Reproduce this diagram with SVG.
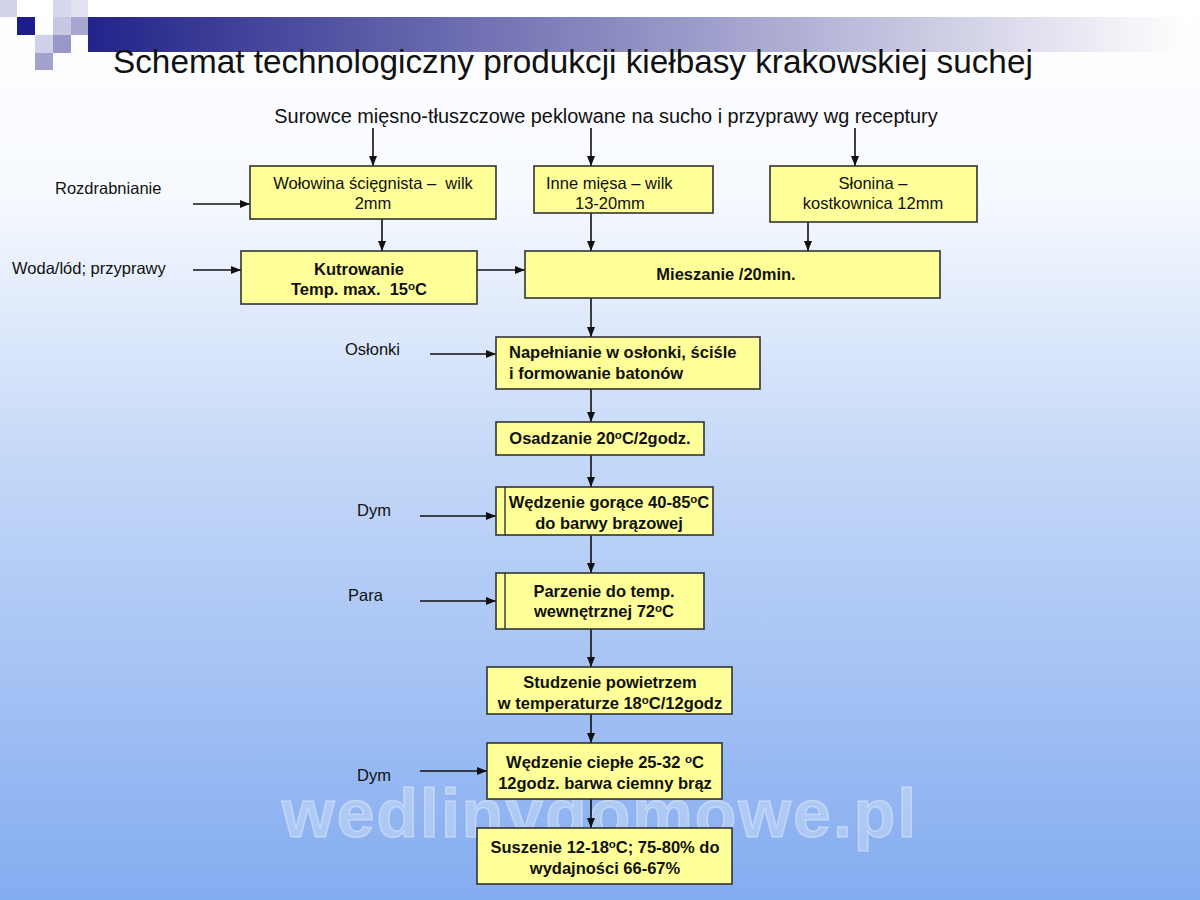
<svg xmlns="http://www.w3.org/2000/svg" width="1200" height="900" viewBox="0 0 1200 900">
<defs>
<linearGradient id="bg" x1="0" y1="0" x2="0" y2="1">
<stop offset="0" stop-color="#ffffff"/>
<stop offset="0.22" stop-color="#f6f9fe"/>
<stop offset="0.5" stop-color="#c6d9f8"/>
<stop offset="1" stop-color="#84acf0"/>
</linearGradient>
<linearGradient id="band" x1="0" y1="0" x2="1" y2="0">
<stop offset="0" stop-color="#23238a"/>
<stop offset="0.4" stop-color="#7a7ab8"/>
<stop offset="1" stop-color="#ffffff"/>
</linearGradient>
<marker id="ah" viewBox="0 0 10 8" refX="10" refY="4" markerWidth="10" markerHeight="8" markerUnits="userSpaceOnUse" orient="auto">
<path d="M0,0 L10,4 L0,8 Z" fill="#111"/>
</marker>
<style>
.box{fill:#ffff99;stroke:#333;stroke-width:1.6}
.inner{stroke:#333;stroke-width:1.4}
.t{font-family:"Liberation Sans",Arial,sans-serif;font-size:16.5px;fill:#111}
.b{font-family:"Liberation Sans",Arial,sans-serif;font-size:16.5px;font-weight:bold;fill:#111}
.c{text-anchor:middle}
.sup{font-size:11.5px}
.conn line{stroke:#111;stroke-width:1.6;marker-end:url(#ah)}
</style>
</defs>
<rect width="1200" height="900" fill="url(#bg)"/>
<g id="decor">
<rect x="88" y="17" width="1100" height="35" fill="url(#band)"/>
<rect x="0" y="0" width="17" height="17" fill="#d2d2ea"/>
<rect x="53" y="0" width="18" height="17" fill="#d6d6ec"/>
<rect x="71" y="0" width="17" height="17" fill="#e2e2f2"/>
<rect x="17" y="17" width="18" height="18" fill="#1c1c8c"/>
<rect x="53" y="17" width="18" height="18" fill="#c8c8e4"/>
<rect x="71" y="17" width="17" height="18" fill="#a6a6d2"/>
<rect x="35" y="35" width="18" height="18" fill="#d0d0e8"/>
<rect x="53" y="35" width="18" height="18" fill="#9898c8"/>
<rect x="35" y="53" width="18" height="17" fill="#a2a2ce"/>
</g>
<text x="113" y="73" font-family="Liberation Sans,Arial,sans-serif" font-size="33.3" fill="#111">Schemat technologiczny produkcji kiełbasy krakowskiej suchej</text>
<text x="606" y="123" text-anchor="middle" font-family="Liberation Sans,Arial,sans-serif" font-size="19.9" fill="#111">Surowce mięsno-tłuszczowe peklowane na sucho i przyprawy wg receptury</text>
<text x="600" y="837" text-anchor="middle" font-family="Liberation Sans,Arial,sans-serif" font-size="68" font-weight="bold" fill="#ffffff" fill-opacity="0.28" stroke="#ffffff" stroke-opacity="0.35" stroke-width="1.5" letter-spacing="2">wedlinydomowe.pl</text>
<g id="labels">
<text class="t" x="55" y="194">Rozdrabnianie</text>
<text class="t" x="12" y="274">Woda/lód; przyprawy</text>
<text class="t" x="345" y="355">Osłonki</text>
<text class="t" x="357" y="516">Dym</text>
<text class="t" x="348" y="601">Para</text>
<text class="t" x="357" y="781">Dym</text>
</g>
<g class="conn" id="connectors">
<line x1="373" y1="128" x2="373" y2="166"/>
<line x1="591" y1="128" x2="591" y2="166"/>
<line x1="855" y1="128" x2="855" y2="166"/>
<line x1="193" y1="204" x2="250" y2="204"/>
<line x1="382" y1="219" x2="382" y2="251"/>
<line x1="591" y1="213" x2="591" y2="251"/>
<line x1="808" y1="222" x2="808" y2="251"/>
<line x1="193" y1="270" x2="241" y2="270"/>
<line x1="477" y1="270" x2="525" y2="270"/>
<line x1="591" y1="298" x2="591" y2="337"/>
<line x1="430" y1="354" x2="496" y2="354"/>
<line x1="591" y1="389" x2="591" y2="422"/>
<line x1="591" y1="455" x2="591" y2="487"/>
<line x1="420" y1="516" x2="496" y2="516"/>
<line x1="591" y1="535" x2="591" y2="573"/>
<line x1="420" y1="601" x2="496" y2="601"/>
<line x1="591" y1="629" x2="591" y2="667"/>
<line x1="591" y1="714" x2="591" y2="743"/>
<line x1="420" y1="771" x2="487" y2="771"/>
<line x1="591" y1="799" x2="591" y2="828"/>
</g>
<g id="n-wolowina">
<rect class="box" x="250" y="166" width="246" height="53"/>
<text class="t c" x="373" y="189" xml:space="preserve">Wołowina ścięgnista –  wilk</text>
<text class="t c" x="373" y="209">2mm</text>
</g>
<g id="n-inne">
<rect class="box" x="534" y="166" width="179" height="47"/>
<text class="t" x="546" y="189">Inne mięsa – wilk</text>
<text class="t" x="575" y="209">13-20mm</text>
</g>
<g id="n-slonina">
<rect class="box" x="770" y="166" width="207" height="56"/>
<text class="t c" x="873" y="189">Słonina –</text>
<text class="t c" x="873" y="209">kostkownica 12mm</text>
</g>
<g id="n-kutrowanie">
<rect class="box" x="241" y="251" width="236" height="53"/>
<text class="b c" x="359" y="275">Kutrowanie</text>
<text class="b c" x="359" y="295" xml:space="preserve">Temp. max.  15<tspan class="sup" dy="-5">o</tspan><tspan dy="5">C</tspan></text>
</g>
<g id="n-mieszanie">
<rect class="box" x="525" y="251" width="415" height="47"/>
<text class="b c" x="726" y="280">Mieszanie /20min.</text>
</g>
<g id="n-napelnianie">
<rect class="box" x="496" y="337" width="264" height="52"/>
<text class="b" x="509" y="358">Napełnianie w osłonki, ściśle</text>
<text class="b" x="509" y="379">i formowanie batonów</text>
</g>
<g id="n-osadzanie">
<rect class="box" x="496" y="422" width="208" height="33"/>
<text class="b c" x="600" y="444">Osadzanie 20<tspan class="sup" dy="-5">o</tspan><tspan dy="5">C/2godz.</tspan></text>
</g>
<g id="n-wedzenie-gorace">
<rect class="box" x="496" y="487" width="217" height="48"/>
<line class="inner" x1="505" y1="487" x2="505" y2="535"/>
<text class="b c" x="609" y="508">Wędzenie gorące 40-85<tspan class="sup" dy="-5">o</tspan><tspan dy="5">C</tspan></text>
<text class="b c" x="609" y="529">do barwy brązowej</text>
</g>
<g id="n-parzenie">
<rect class="box" x="496" y="573" width="208" height="56"/>
<line class="inner" x1="505" y1="573" x2="505" y2="629"/>
<text class="b c" x="604" y="597">Parzenie do temp.</text>
<text class="b c" x="604" y="617">wewnętrznej 72<tspan class="sup" dy="-5">o</tspan><tspan dy="5">C</tspan></text>
</g>
<g id="n-studzenie">
<rect class="box" x="487" y="667" width="245" height="47"/>
<text class="b c" x="610" y="688">Studzenie powietrzem</text>
<text class="b c" x="610" y="709">w temperaturze 18<tspan class="sup" dy="-5">o</tspan><tspan dy="5">C/12godz</tspan></text>
</g>
<g id="n-wedzenie-cieple">
<rect class="box" x="487" y="743" width="235" height="56"/>
<text class="b c" x="605" y="768">Wędzenie ciepłe 25-32 <tspan class="sup" dy="-5">o</tspan><tspan dy="5">C</tspan></text>
<text class="b c" x="605" y="789">12godz. barwa ciemny brąz</text>
</g>
<g id="n-suszenie">
<rect class="box" x="477" y="828" width="255" height="56"/>
<text class="b c" x="605" y="853">Suszenie 12-18<tspan class="sup" dy="-5">o</tspan><tspan dy="5">C; 75-80% do</tspan></text>
<text class="b c" x="605" y="874">wydajności 66-67%</text>
</g>
</svg>
